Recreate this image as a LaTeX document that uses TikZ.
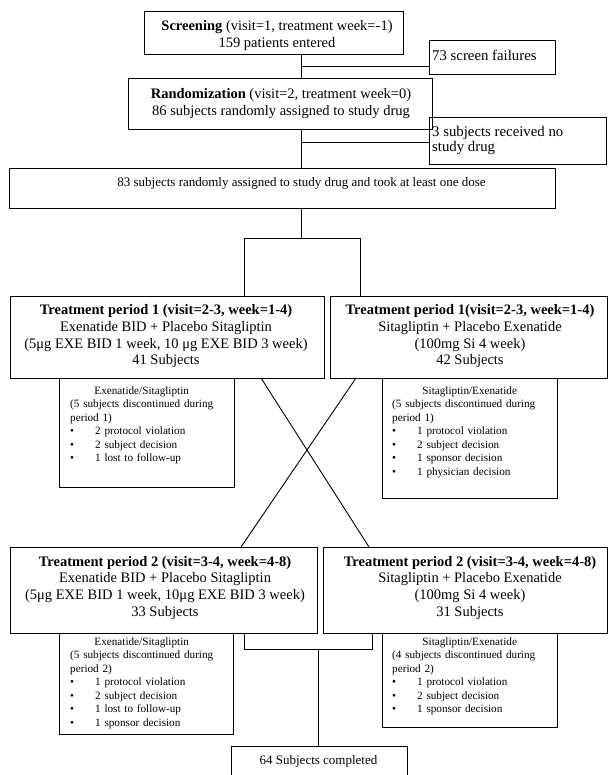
\documentclass[tikz,border=0pt]{standalone}
\usepackage{fontspec}
\setmainfont{Liberation Serif}
\usetikzlibrary{fit}
\tikzset{
  box/.style={draw, line width=0.9pt, inner sep=0pt, outer sep=0pt},
  conn/.style={draw, line width=0.9pt},
  main/.style={font=\fontsize{14.5}{16.7}\selectfont, align=center, inner sep=0pt},
  mid/.style={font=\fontsize{13}{15}\selectfont, align=center, inner sep=0pt},
  side/.style={font=\fontsize{14.8}{15.5}\selectfont, align=left, inner sep=0pt, anchor=west},
  small/.style={font=\fontsize{11.2}{13.5}\selectfont, align=left, inner sep=0pt, text width=168pt, anchor=north west},
}
\newcommand{\itm}[1]{\strut\makebox[25pt][l]{\textbullet}#1}
\begin{document}
\begin{tikzpicture}[x=1pt,y=-1pt]
\useasboundingbox (0,0) rectangle (608,775);
\clip (0,0) rectangle (608,775);
% boxes
\node[box, fit={(144,11)(403,54)}] (scr) {};
\node[box, fit={(429,40)(555,74)}] (fail) {};
\node[box, fit={(128,78)(432,129)}] (rand) {};
\node[box, fit={(429,117)(606,164)}] (nodrug) {};
\node[box, fit={(9,168)(555,208)}] (dose) {};
\node[box, fit={(10,296)(324,378)}] (p1a) {};
\node[box, fit={(330,296)(607,378)}] (p1b) {};
\node[box, fit={(59,378)(234,487)}] (d1a) {};
\node[box, fit={(382,378)(557,498)}] (d1b) {};
\node[box, fit={(10,547)(317,633)}] (p2a) {};
\node[box, fit={(323,547)(607,633)}] (p2b) {};
\node[box, fit={(59,633)(233,734)}] (d2a) {};
\node[box, fit={(382,633)(557,727)}] (d2b) {};
\node[box, fit={(231,746)(407,790)}] (done) {};
% texts
\node[main] (scrT) at (277,35.5) {\strut\textbf{Screening} (visit=1, treatment week=-1)\\\strut 159 patients entered};
\node[side] (failT) at (432,57) {\strut 73 screen failures};
\node[main] (randT) at (281,104) {\strut\textbf{Randomization} (visit=2, treatment week=0)\\\strut 86 subjects randomly assigned to study drug};
\node[side] (nodrugT) at (432,141) {\strut 3 subjects received no\\\strut study drug};
\node[mid] (doseT) at (301.5,184) {\strut 83 subjects randomly assigned to study drug and took at least one dose};
\node[main] (p1aT) at (166,336.5) {\strut\textbf{Treatment period 1 (visit=2-3, week=1-4)}\\\strut Exenatide BID + Placebo Sitagliptin\\\strut (5μg EXE BID 1 week, 10 μg EXE BID 3 week)\\\strut 41 Subjects};
\node[main] (p1bT) at (470,336.5) {\strut\textbf{Treatment period 1(visit=2-3, week=1-4)}\\\strut Sitagliptin + Placebo Exenatide\\\strut (100mg Si 4 week)\\\strut 42 Subjects};
\node[main] (p2aT) at (165,588) {\strut\textbf{Treatment period 2 (visit=3-4, week=4-8)}\\\strut Exenatide BID + Placebo Sitagliptin\\\strut (5μg EXE BID 1 week, 10μg EXE BID 3 week)\\\strut 33 Subjects};
\node[main] (p2bT) at (470,588) {\strut\textbf{Treatment period 2 (visit=3-4, week=4-8)}\\\strut Sitagliptin + Placebo Exenatide\\\strut (100mg Si 4 week)\\\strut 31 Subjects};
\node[mid] (doneT) at (318.5,761) {\strut 64 Subjects completed};
\node[small] (d1aT) at (70,384.5) {\strut\makebox[143pt]{Exenatide/Sitagliptin}\\\strut(5 subjects discontinued during\\\strut period 1)\\\itm{2 protocol violation}\\\itm{2 subject decision}\\\itm{1 lost to follow-up}};
\node[small] (d1bT) at (392,384.5) {\strut\makebox[155pt]{Sitagliptin/Exenatide}\\\strut(5 subjects discontinued during\\\strut period 1)\\\itm{1 protocol violation}\\\itm{2 subject decision}\\\itm{1 sponsor decision}\\\itm{1 physician decision}};
\node[small] (d2aT) at (70,635.5) {\strut\makebox[143pt]{Exenatide/Sitagliptin}\\\strut(5 subjects discontinued during\\\strut period 2)\\\itm{1 protocol violation}\\\itm{2 subject decision}\\\itm{1 lost to follow-up}\\\itm{1 sponsor decision}};
\node[small] (d2bT) at (392,635.5) {\strut\makebox[155pt]{Sitagliptin/Exenatide}\\\strut(4 subjects discontinued during\\\strut period 2)\\\itm{1 protocol violation}\\\itm{2 subject decision}\\\itm{1 sponsor decision}};
% connectors
\coordinate (sx) at (301,0);
\coordinate (j1) at (301,66);
\coordinate (j2) at (301,142);
\coordinate (j3) at (301,238);
\coordinate (bl) at (244,238);
\coordinate (br) at (360,238);
\draw[conn] (scr.south -| sx) -- (rand.north -| sx);
\draw[conn] (j1) -- (j1 -| fail.west);
\draw[conn] (rand.south -| sx) -- (dose.north -| sx);
\draw[conn] (j2) -- (j2 -| nodrug.west);
\draw[conn] (dose.south -| sx) -- (j3);
\draw[conn] (p1a.north -| bl) -- (bl) -- (br) -- (p1b.north -| br);
\coordinate (ca) at (261,0);
\coordinate (cb) at (369,0);
\coordinate (cc) at (356,0);
\coordinate (cd) at (241,0);
\draw[conn] (p1a.south -| ca) -- (p2b.north -| cb);
\draw[conn] (p1b.south -| cc) -- (p2a.north -| cd);
\coordinate (ql) at (244,649);
\coordinate (qr) at (372,649);
\coordinate (qm) at (318,649);
\draw[conn] (p2a.south -| ql) -- (ql) -- (qr) -- (p2b.south -| qr);
\draw[conn] (qm) -- (done.north -| qm);
\end{tikzpicture}
\end{document}
